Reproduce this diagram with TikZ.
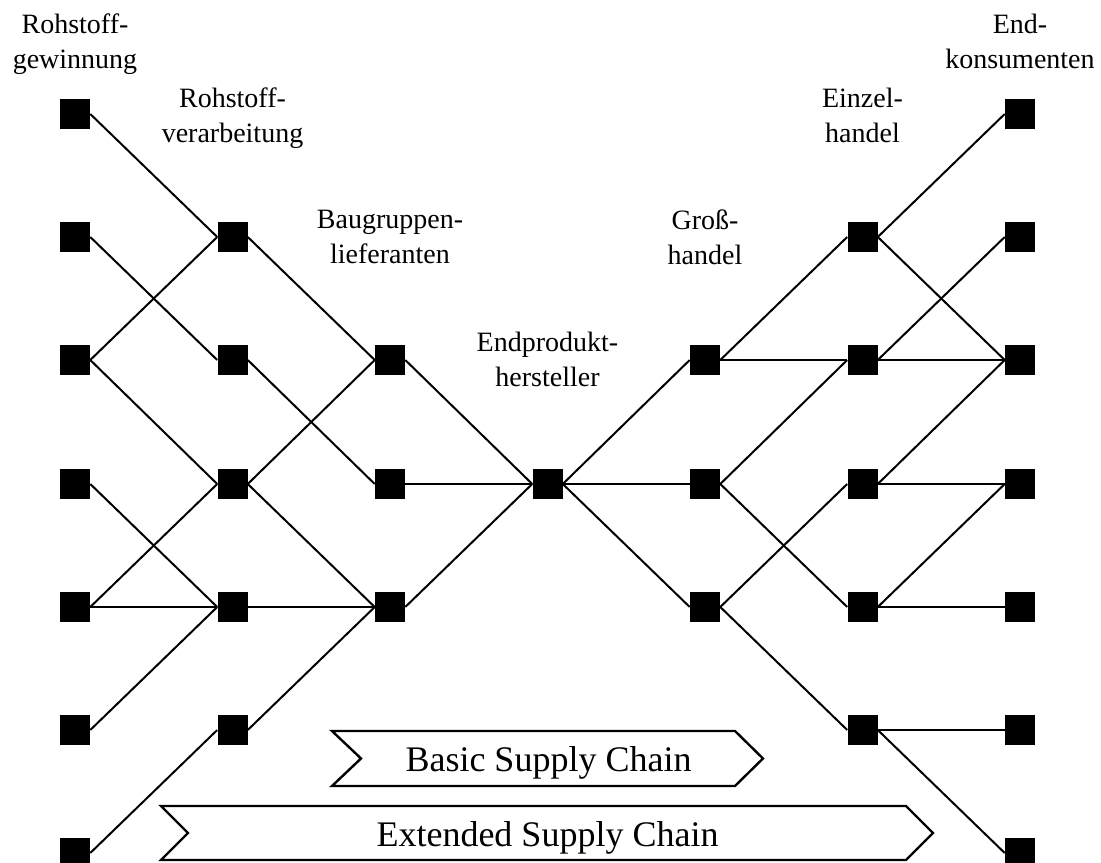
\documentclass[tikz,border=0pt]{standalone}
\usepackage{fontspec}
\setmainfont{Liberation Serif}
\begin{document}
\begin{tikzpicture}[x=0.75pt,y=-0.75pt,
  sq/.style={fill=black,draw=none,minimum size=22.5pt,inner sep=0pt},
  conn/.style={line width=1.5pt},
  lbl/.style={font=\fontsize{21}{26.25}\selectfont,align=center,anchor=north,inner sep=0pt},
  chev/.style={line width=1.8pt,line join=miter},
  chevtext/.style={font=\fontsize{27}{32}\selectfont,anchor=base,inner sep=0pt}]
\useasboundingbox (0,0) rectangle (1101,863);
% columns and rows
\def\cA{75}\def\cB{232.5}\def\cC{390}\def\cD{547.5}\def\cE{705}\def\cF{862.5}\def\cG{1020}
\def\rA{114}\def\rB{237}\def\rC{360}\def\rD{484}\def\rE{607}\def\rF{730}\def\rG{853}
% column 1
\node[sq] (a1) at (\cA,\rA) {};
\node[sq] (a2) at (\cA,\rB) {};
\node[sq] (a3) at (\cA,\rC) {};
\node[sq] (a4) at (\cA,\rD) {};
\node[sq] (a5) at (\cA,\rE) {};
\node[sq] (a6) at (\cA,\rF) {};
\node[sq] (a7) at (\cA,\rG) {};
% column 2
\node[sq] (b2) at (\cB,\rB) {};
\node[sq] (b3) at (\cB,\rC) {};
\node[sq] (b4) at (\cB,\rD) {};
\node[sq] (b5) at (\cB,\rE) {};
\node[sq] (b6) at (\cB,\rF) {};
% column 3
\node[sq] (c3) at (\cC,\rC) {};
\node[sq] (c4) at (\cC,\rD) {};
\node[sq] (c5) at (\cC,\rE) {};
% column 4
\node[sq] (d4) at (\cD,\rD) {};
% column 5
\node[sq] (e3) at (\cE,\rC) {};
\node[sq] (e4) at (\cE,\rD) {};
\node[sq] (e5) at (\cE,\rE) {};
% column 6
\node[sq] (f2) at (\cF,\rB) {};
\node[sq] (f3) at (\cF,\rC) {};
\node[sq] (f4) at (\cF,\rD) {};
\node[sq] (f5) at (\cF,\rE) {};
\node[sq] (f6) at (\cF,\rF) {};
% column 7
\node[sq] (g1) at (\cG,\rA) {};
\node[sq] (g2) at (\cG,\rB) {};
\node[sq] (g3) at (\cG,\rC) {};
\node[sq] (g4) at (\cG,\rD) {};
\node[sq] (g5) at (\cG,\rE) {};
\node[sq] (g6) at (\cG,\rF) {};
\node[sq] (g7) at (\cG,\rG) {};
% connectors
\foreach \s/\t in {a1/b2,a2/b3,a3/b2,a3/b4,a4/b5,a5/b4,a5/b5,a6/b5,a7/b6,
  b2/c3,b3/c4,b4/c3,b4/c5,b5/c5,b6/c5,
  c3/d4,c4/d4,c5/d4,
  d4/e3,d4/e4,d4/e5,
  e3/f2,e3/f3,e4/f3,e4/f5,e5/f4,e5/f6,
  f2/g1,f2/g3,f3/g2,f3/g3,f4/g3,f4/g4,f5/g4,f5/g5,f6/g6,f6/g7}
  \draw[conn] (\s.east) -- (\t.west);
% labels
\node[lbl] (l1) at (\cA,14) {Rohstoff-\\gewinnung};
\node[lbl] (l2) at (\cB,88) {Rohstoff-\\verarbeitung};
\node[lbl] (l3) at (\cC,210) {Baugruppen-\\lieferanten};
\node[lbl] (l4) at (\cD,332) {Endprodukt-\\hersteller};
\node[lbl] (l5) at (\cE,210) {Groß-\\handel};
\node[lbl] (l6) at (\cF,88) {Einzel-\\handel};
\node[lbl] (l7) at (\cG,14) {End-\\konsumenten};
% chevrons
\draw[chev] (332,731) -- (735,731) -- (763,758.5) -- (735,786) -- (332,786) -- (361,758.5) -- cycle;
\node[chevtext] (basic) at (548.5,771) {Basic Supply Chain};
\draw[chev] (161,806) -- (906,806) -- (933,833) -- (906,860) -- (161,860) -- (188,833) -- cycle;
\node[chevtext] (ext) at (547.5,846) {Extended Supply Chain};
\end{tikzpicture}
\end{document}
